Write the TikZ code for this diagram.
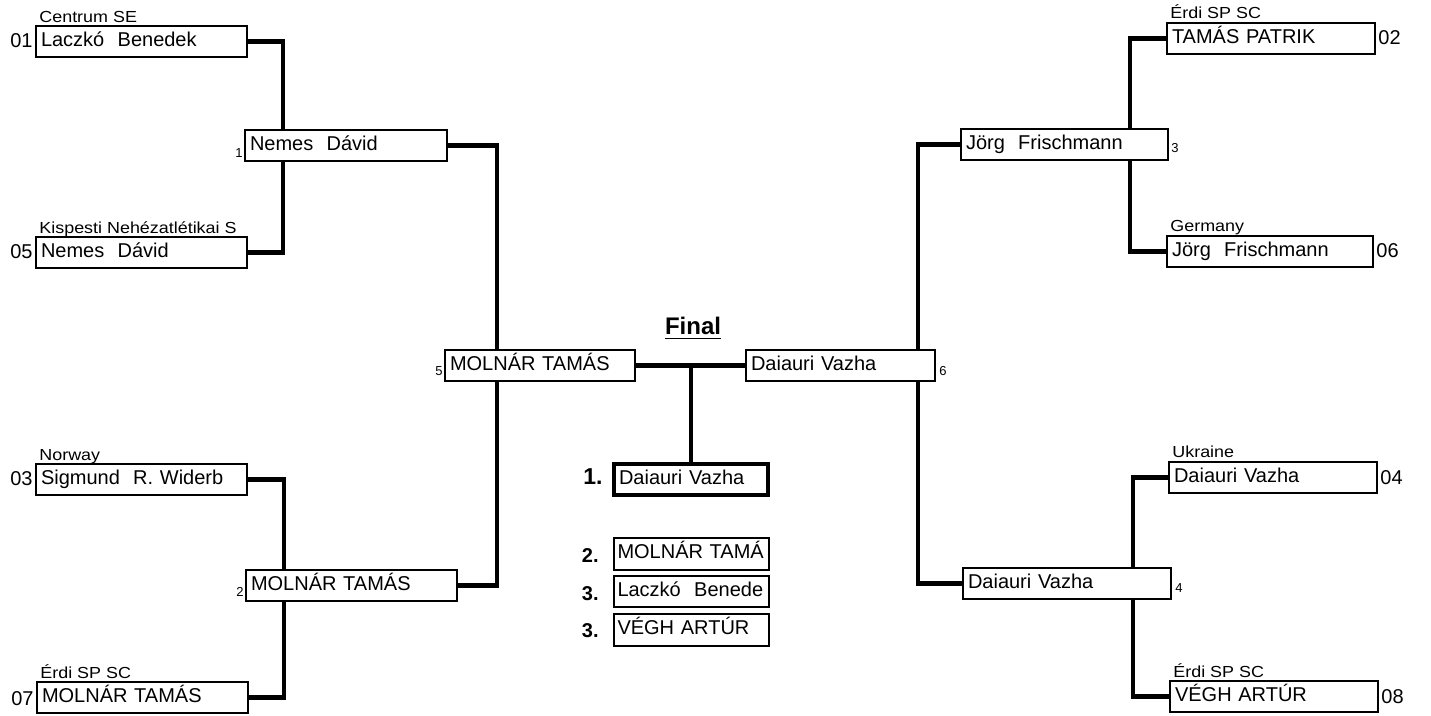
\documentclass[tikz,border=0pt]{standalone}
\usepackage{fontspec}
\setmainfont{Liberation Sans}
\newfontfamily\clubfont[FakeStretch=1.12]{Liberation Sans}
\begin{document}
\begin{tikzpicture}[x=0.5pt,y=-0.5pt,
  pbox/.style={draw, line width=1pt, anchor=north west, outer sep=0pt, inner xsep=2.5pt, inner ysep=0pt,
    align=left, text height=7pt, text depth=2pt, font=\fontsize{10}{11}\selectfont, minimum height=15.5pt, text width=#1},
  rbox/.style={pbox=74pt, inner xsep=1.75pt},
  conn/.style={line width=2.2pt},
  club/.style={anchor=base west, inner sep=0pt, font=\clubfont\fontsize{8}{9}\selectfont},
  seedl/.style={anchor=base east, inner sep=0pt, font=\fontsize{10}{12}\selectfont},
  seedr/.style={anchor=base west, inner sep=0pt, font=\fontsize{10}{12}\selectfont},
  rndl/.style={anchor=base east, inner sep=0pt, font=\fontsize{6.5}{8}\selectfont},
  rndr/.style={anchor=base west, inner sep=0pt, font=\fontsize{6.5}{8}\selectfont},
  place/.style={anchor=base east, inner sep=0pt, font=\bfseries\fontsize{10}{12}\selectfont}
]
\useasboundingbox[fill=white] (0,0) rectangle (1431,716);

% first round, left
\node[pbox=100.5pt] (b01) at (36,26) {Laczkó\ \ Benedek};
\node[pbox=100.5pt] (b05) at (36,237) {Nemes\ \ Dávid};
\node[pbox=100.5pt] (b03) at (36,464) {Sigmund\ \ R. Widerb};
\node[pbox=100.5pt] (b07) at (37,682) {MOLNÁR TAMÁS};
% second round, left
\node[pbox=96pt] (r1) at (245,130) {Nemes\ \ Dávid};
\node[pbox=100.5pt] (r2) at (246,570) {MOLNÁR TAMÁS};
% semifinal winners
\node[pbox=90pt] (s5) at (445,350) {MOLNÁR TAMÁS};
\node[pbox=89.5pt] (s6) at (746,350) {Daiauri Vazha};
% second round, right
\node[pbox=98.5pt] (r3) at (961,129) {Jörg\ \ Frischmann};
\node[pbox=99pt] (r4) at (963,568) {Daiauri Vazha};
% first round, right
\node[pbox=99pt] (b02) at (1167,23) {TAMÁS PATRIK};
\node[pbox=98pt] (b06) at (1167,236) {Jörg\ \ Frischmann};
\node[pbox=99pt] (b04) at (1169,462) {Daiauri Vazha};
\node[pbox=99pt] (b08) at (1170,681) {VÉGH ARTÚR};
% results
\node[pbox=72pt, line width=2pt] (win) at (614,464) {Daiauri Vazha};
\node[rbox, minimum height=16pt] (p2) at (614,538) {\mbox{MOLNÁR TAMÁ}};
\node[rbox] (p3a) at (614,576) {\mbox{Laczkó\ \ Benede}};
\node[rbox, minimum height=16pt] (p3b) at (614,614) {\mbox{VÉGH ARTÚR}};

% junction columns
\coordinate (xa) at (283,0);
\coordinate (xb) at (497,0);
\coordinate (xc) at (284,0);
\coordinate (xd) at (1130,0);
\coordinate (xe) at (918,0);
\coordinate (xf) at (1133,0);

% connectors
\draw[conn] (b01.east) -| (r1.north -| xa);
\draw[conn] (r1.south -| xa) |- (b05.east);
\draw[conn] (r1.east) -| (s5.north -| xb);
\draw[conn] (s5.south -| xb) |- (r2.east);
\draw[conn] (b03.east) -| (r2.north -| xc);
\draw[conn] (r2.south -| xc) |- (b07.east);
\draw[conn] (s5.east) -- (s6.west);
\draw[conn] (s5.east -| win.north) -- (win.north);
\draw[conn] (b02.west) -| (r3.north -| xd);
\draw[conn] (r3.south -| xd) |- (b06.west);
\draw[conn] (r3.west) -| (s6.north -| xe);
\draw[conn] (s6.south -| xe) |- (r4.west);
\draw[conn] (b04.west) -| (r4.north -| xf);
\draw[conn] (r4.south -| xf) |- (b08.west);

% clubs
\node[club] (c01) at (39,23) {Centrum SE};
\node[club] (c05) at (39,234) {Kispesti Nehézatlétikai S};
\node[club] (c03) at (39,461) {Norway};
\node[club] (c07) at (40,679) {Érdi SP SC};
\node[club] (c02) at (1170,19) {Érdi SP SC};
\node[club] (c06) at (1170,232) {Germany};
\node[club] (c04) at (1172,458) {Ukraine};
\node[club] (c08) at (1173,677) {Érdi SP SC};

% seeds
\node[seedl] (n01) at (33,48) {01};
\node[seedl] (n05) at (33,259) {05};
\node[seedl] (n03) at (33,486) {03};
\node[seedl] (n07) at (34,705) {07};
\node[seedr] (n02) at (1378,45) {02};
\node[seedr] (n06) at (1376,258) {06};
\node[seedr] (n04) at (1380,485) {04};
\node[seedr] (n08) at (1381,704) {08};

% match numbers
\node[rndl] (m1) at (243,158) {1};
\node[rndl] (m2) at (244,597) {2};
\node[rndl] (m5) at (443,376) {5};
\node[rndr] (m6) at (939,376) {6};
\node[rndr] (m3) at (1171,153) {3};
\node[rndr] (m4) at (1175,593) {4};

% final
\node[anchor=base, inner sep=0pt, font=\bfseries\fontsize{12}{14}\selectfont] (final) at (693,335) {\underline{Final}};
\node[place, font=\bfseries\fontsize{11.5}{14}\selectfont] (l1) at (603,485) {1.};
\node[place] (l2) at (599,563) {2.};
\node[place] (l3a) at (599,601) {3.};
\node[place] (l3b) at (599,638) {3.};
\end{tikzpicture}
\end{document}
